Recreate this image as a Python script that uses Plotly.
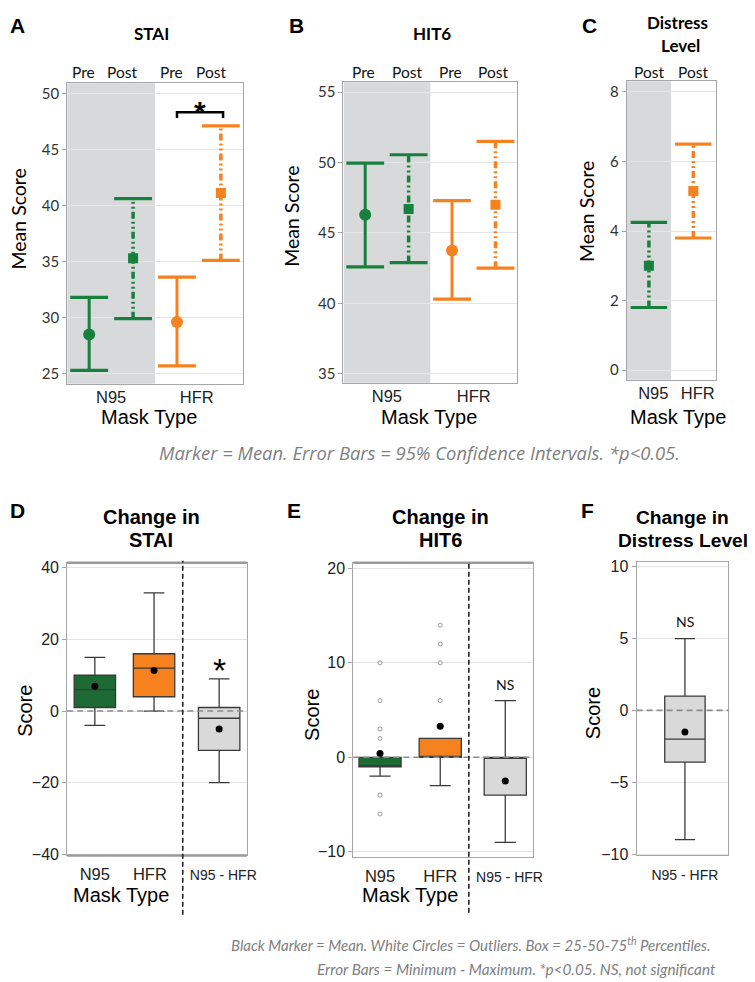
import plotly.graph_objects as go

W, H = 755, 982

# ---------------- Data: panels A-C (mean with 95% CI) ----------------
mask_types = ["N95", "HFR"]
time_points = ["Pre", "Post", "Pre", "Post"]      # N95 Pre, N95 Post, HFR Pre, HFR Post
point_mask = ["N95", "N95", "HFR", "HFR"]
stai_mean = [28.5, 35.3, 29.6, 41.1]
stai_lo = [25.3, 29.9, 25.7, 35.1]
stai_hi = [31.8, 40.6, 33.6, 47.1]
hit6_mean = [46.3, 46.7, 43.75, 47.0]
hit6_lo = [42.6, 42.9, 40.3, 42.5]
hit6_hi = [49.95, 50.55, 47.3, 51.5]
distress_time = ["Post", "Post"]
distress_mask = ["N95", "HFR"]
distress_mean = [3.0, 5.15]
distress_lo = [1.8, 3.8]
distress_hi = [4.25, 6.5]

# ---------------- Data: panels D-F (box statistics) ----------------
change_groups = ["N95", "HFR", "N95 - HFR"]
stai_chg_min = [-4, 0, -20]
stai_chg_q1 = [1, 4, -11]
stai_chg_med = [6, 12, -2]
stai_chg_q3 = [10, 16, 1]
stai_chg_max = [15, 33, 9]
stai_chg_mean = [6.9, 11.3, -5.0]

hit6_chg_min = [-2, -3, -9]
hit6_chg_q1 = [-1, 0, -4]
hit6_chg_med = [-1, 0, 0]
hit6_chg_q3 = [0, 2, 0]
hit6_chg_max = [0, 2, 6]
hit6_chg_mean = [0.4, 3.3, -2.5]
hit6_outliers_n95 = [10, 6, 3, 2, -4, -6]
hit6_outliers_hfr = [14, 12, 10, 6]

distress_chg_group = ["N95 - HFR"]
distress_chg_min = [-9]
distress_chg_q1 = [-3.6]
distress_chg_med = [-2]
distress_chg_q3 = [1]
distress_chg_max = [5]
distress_chg_mean = [-1.5]

# ---------------- Styling ----------------
GREEN = "#17803d"
ORANGE = "#f5821f"
DGREEN = "#1e6a34"
BOXGRAY = "#d9d9d9"
SHADE = "#d8d9da"
AX = "#a6a6a6"
GRID = "#e4e4e4"
SANS = "Liberation Sans, Arial, sans-serif"
CAL = "Lato, Open Sans, sans-serif"
OPEN = "Open Sans, sans-serif"
mask_color = {"N95": GREEN, "HFR": ORANGE}
box_fill = {"N95": DGREEN, "HFR": ORANGE, "N95 - HFR": BOXGRAY}


def px(x):
    return x / W


def py(y):
    return 1 - y / H


def dx(a, b):
    return [px(a), px(b)]


def dy(top, bottom):
    return [py(bottom), py(top)]


fig = go.Figure()


def ci_panel(n, xs, means, los, his, masks, times, cap):
    xa, ya = ("x" if n == 1 else f"x{n}"), ("y" if n == 1 else f"y{n}")
    for x, m, lo, hi, mk, t in zip(xs, means, los, his, masks, times):
        c = mask_color[mk]
        pre = t == "Pre"
        fig.add_trace(go.Scatter(
            x=[x, x], y=[lo, hi], mode="lines", xaxis=xa, yaxis=ya,
            line=dict(color=c, width=3 if pre else 3.5,
                      dash="solid" if pre else "7px,3px,2px,3px,2px,3px"),
            showlegend=False, hoverinfo="skip"))
        fig.add_trace(go.Scatter(
            x=[x, x], y=[lo, hi], mode="markers", xaxis=xa, yaxis=ya,
            marker=dict(symbol="line-ew", size=cap, line=dict(color=c, width=3.2)),
            showlegend=False, hoverinfo="skip"))
        fig.add_trace(go.Scatter(
            x=[x], y=[m], mode="markers", xaxis=xa, yaxis=ya,
            marker=dict(symbol="circle" if pre else "square",
                        size=12 if pre else 10, color=c),
            showlegend=False, hoverinfo="skip"))


pos4 = [i + 0.5 for i in range(len(stai_mean))]
pos2 = [i + 0.5 for i in range(len(distress_mean))]
ci_panel(1, pos4, stai_mean, stai_lo, stai_hi, point_mask, time_points, 27)
ci_panel(2, pos4, hit6_mean, hit6_lo, hit6_hi, point_mask, time_points, 27)
ci_panel(3, pos2, distress_mean, distress_lo, distress_hi, distress_mask, distress_time, 26)


def box_panel(n, xs, lows, q1s, meds, q3s, highs, means, groups, width):
    xa, ya = f"x{n}", f"y{n}"
    for x, lo, q1, md, q3, hi, g in zip(xs, lows, q1s, meds, q3s, highs, groups):
        fig.add_trace(go.Box(
            x=[x], q1=[q1], median=[md], q3=[q3], lowerfence=[lo], upperfence=[hi],
            xaxis=xa, yaxis=ya, fillcolor=box_fill[g],
            line=dict(color="#3a3a3a", width=1.3), width=width, whiskerwidth=0.5,
            boxpoints=False, showlegend=False, hoverinfo="skip"))
    fig.add_trace(go.Scatter(
        x=xs, y=means, mode="markers", xaxis=xa, yaxis=ya,
        marker=dict(symbol="circle", size=7, color="black"),
        showlegend=False, hoverinfo="skip"))


posD = [1, 2, 3.1]
posE = [1, 2, 3.08]
box_panel(4, posD, stai_chg_min, stai_chg_q1, stai_chg_med, stai_chg_q3, stai_chg_max,
          stai_chg_mean, change_groups, 0.7)
box_panel(5, posE, hit6_chg_min, hit6_chg_q1, hit6_chg_med, hit6_chg_q3, hit6_chg_max,
          hit6_chg_mean, change_groups, 0.7)
box_panel(6, [0], distress_chg_min, distress_chg_q1, distress_chg_med, distress_chg_q3,
          distress_chg_max, distress_chg_mean, distress_chg_group, 0.44)

fig.add_trace(go.Scatter(
    x=[posE[0]] * len(hit6_outliers_n95) + [posE[1]] * len(hit6_outliers_hfr),
    y=hit6_outliers_n95 + hit6_outliers_hfr, mode="markers", xaxis="x5", yaxis="y5",
    marker=dict(symbol="circle-open", size=4, color="#9a9a9a", line=dict(width=1)),
    showlegend=False, hoverinfo="skip"))

# ---------------- Axes ----------------
top_y = dict(showgrid=True, gridcolor=GRID, gridwidth=1, showline=True, mirror=True,
             linecolor=AX, linewidth=1, ticks="outside", ticklen=4, tickcolor=AX,
             tickfont=dict(family=CAL, size=15, color="#333"), zeroline=False)
top_x = dict(showgrid=False, showline=True, mirror=True, linecolor=AX, linewidth=1,
             ticks="", ticklabelstandoff=-2,
             tickfont=dict(family=SANS, size=16.5, color="#222"), zeroline=False)
bot_y = dict(showgrid=True, gridcolor=GRID, gridwidth=1, showline=True, mirror=True,
             linecolor=AX, linewidth=1, ticks="outside", ticklen=4, tickcolor=AX,
             tickfont=dict(family=SANS, size=16, color="#222"), zeroline=False)
bot_x = dict(showgrid=False, showline=True, mirror=True, linecolor=AX, linewidth=1,
             ticks="outside", ticklen=4, tickcolor="rgba(0,0,0,0)",
             tickfont=dict(family=SANS, size=16.5, color="#222"), zeroline=False)


def small(s):
    return f"<span style='font-size:14px'>{s}</span>"


fig.update_layout(
    width=W, height=H, margin=dict(l=0, r=0, t=0, b=0),
    paper_bgcolor="white", plot_bgcolor="white", showlegend=False,
    xaxis=dict(top_x, anchor="y", domain=dx(60, 238), range=[0, 4], tickvals=[1, 2.95],
               ticktext=mask_types),
    yaxis=dict(top_y, anchor="x", domain=dy(73, 377), range=[24.1, 50.9],
               tickvals=[25, 30, 35, 40, 45, 50]),
    xaxis2=dict(top_x, anchor="y2", domain=dx(340, 516), range=[0, 4], tickvals=[1, 3],
                ticktext=mask_types),
    yaxis2=dict(top_y, anchor="x2", domain=dy(72, 376), range=[34.37, 55.7],
                tickvals=[35, 40, 45, 50, 55]),
    xaxis3=dict(top_x, anchor="y3", domain=dx(627, 717), range=[0, 2], tickvals=[0.6, 1.6],
                ticktext=mask_types),
    yaxis3=dict(top_y, anchor="x3", domain=dy(71, 373), range=[-0.28, 8.31],
                tickvals=[0, 2, 4, 6, 8]),
    xaxis4=dict(bot_x, anchor="y4", domain=dx(60, 242), range=[0.533, 3.567],
                tickvals=[1, 1.93, 3.17], ticktext=["N95", "HFR", small("N95 - HFR")]),
    yaxis4=dict(bot_y, anchor="x4", domain=dy(558, 854), range=[-40.3, 41.4],
                tickvals=[-40, -20, 0, 20, 40]),
    xaxis5=dict(bot_x, anchor="y5", domain=dx(350, 532), range=[0.557, 3.54],
                tickvals=[1, 2, 3.15], ticktext=["N95", "HFR", small("N95 - HFR")]),
    yaxis5=dict(bot_y, anchor="x5", domain=dy(558, 856), range=[-10.6, 20.6],
                tickvals=[-10, 0, 10, 20]),
    xaxis6=dict(bot_x, anchor="y6", domain=dx(637, 730), range=[-0.527, 0.473], tickvals=[0],
                ticktext=[small("N95 - HFR")]),
    yaxis6=dict(bot_y, anchor="x6", domain=dy(557, 854), range=[-10.1, 10.35],
                tickvals=[-10, -5, 0, 5, 10]),
)

# ---------------- Shapes ----------------
shapes = [
    dict(type="rect", xref="x", yref="y domain", x0=0, x1=2, y0=0, y1=1, fillcolor=SHADE,
         line=dict(width=0), layer="below"),
    dict(type="rect", xref="x2", yref="y2 domain", x0=0, x1=2, y0=0, y1=1, fillcolor=SHADE,
         line=dict(width=0), layer="below"),
    dict(type="rect", xref="x3", yref="y3 domain", x0=0, x1=1, y0=0, y1=1, fillcolor=SHADE,
         line=dict(width=0), layer="below"),
    # significance bracket (HFR Pre vs Post)
    dict(type="path", xref="x", yref="y", path="M 2.5,47.8 L 2.5,48.3 L 3.55,48.3 L 3.55,47.8",
         line=dict(color="black", width=2.5)),
]
for n in (4, 5, 6):
    shapes.append(dict(type="line", xref=f"x{n} domain", yref=f"y{n}", x0=0, x1=1, y0=0, y1=0,
                       line=dict(color="#8c8c8c", width=1.6, dash="6px,4px"), layer="above"))
# thick top/bottom borders
shapes.append(dict(type="line", xref="x4 domain", yref="y4 domain", x0=0, x1=1, y0=1, y1=1,
                   line=dict(color="#9a9a9a", width=2.5)))
shapes.append(dict(type="line", xref="x4 domain", yref="y4 domain", x0=0, x1=1, y0=0, y1=0,
                   line=dict(color="#9a9a9a", width=2.5)))
shapes.append(dict(type="line", xref="x5 domain", yref="y5 domain", x0=0, x1=1, y0=1, y1=1,
                   line=dict(color="#9a9a9a", width=2.5)))
# vertical separators
shapes.append(dict(type="line", xref="x4", yref="paper", x0=2.485, x1=2.485, y0=py(914), y1=py(556),
                   line=dict(color="#222", width=1.6, dash="5px,3px")))
shapes.append(dict(type="line", xref="x5", yref="paper", x0=2.475, x1=2.475, y0=py(912), y1=py(556),
                   line=dict(color="#222", width=1.6, dash="5px,3px")))
fig.update_layout(shapes=shapes)

# ---------------- Annotations ----------------
ann = []


def text(x, y, s, size, family=SANS, color="black", bold=False, italic=False,
         angle=0, xanchor="center", yanchor="middle"):
    if bold:
        s = f"<b>{s}</b>"
    if italic:
        s = f"<i>{s}</i>"
    ann.append(dict(x=px(x), y=py(y), xref="paper", yref="paper", text=s, showarrow=False,
                    textangle=angle, font=dict(family=family, size=size, color=color),
                    xanchor=xanchor, yanchor=yanchor))


# panel letters
for lx, ly, L in [(10, 15, "A"), (292, 15, "B"), (589, 15, "C"),
                  (10, 505, "D"), (290, 505, "E"), (587, 505, "F")]:
    text(lx, ly, L, 21, bold=True)

# top titles
text(145, 23, "STAI", 17, family=CAL, bold=True)
text(430, 23, "HIT6", 17, family=CAL, bold=True)
text(678, 12, "Distress", 17, family=CAL, bold=True)
text(682, 35, "Level", 17, family=CAL, bold=True)

# Pre / Post headers
a_shift = [-6, -11, -5, -10]
for x, t, s in zip(pos4, time_points, a_shift):
    ann.append(dict(x=x, y=py(62), xref="x", yref="paper", text=t, showarrow=False, xshift=s,
                    yanchor="middle", font=dict(family=CAL, size=15.5, color="#111")))
    ann.append(dict(x=x, y=py(62), xref="x2", yref="paper", text=t, showarrow=False, xshift=-2,
                    yanchor="middle", font=dict(family=CAL, size=15.5, color="#111")))
for x, t in zip(pos2, distress_time):
    ann.append(dict(x=x, y=py(62), xref="x3", yref="paper", text=t, showarrow=False,
                    yanchor="middle", font=dict(family=CAL, size=15.5, color="#111")))

# y titles
text(11, 210, "Mean Score", 19.5, family=CAL, angle=-90)
text(287, 208, "Mean Score", 19.5, family=CAL, angle=-90)
text(587, 203, "Mean Score", 19.5, family=CAL, angle=-90)
text(17, 708, "Score", 20, angle=-90)
text(308, 712, "Score", 20, angle=-90)
text(593, 710, "Score", 20, angle=-90)

# x titles
text(143, 411, "Mask Type", 20)
text(427, 411, "Mask Type", 20)
text(679, 411, "Mask Type", 20)
text(115, 894, "Mask Type", 20)
text(407, 894, "Mask Type", 20)

# significance
ann.append(dict(x=3.02, y=48.75, xref="x", yref="y", text="<b>*</b>", showarrow=False,
                font=dict(family=SANS, size=30, color="black"), yanchor="middle", yshift=-4))
ann.append(dict(x=posD[2], y=13.2, xref="x4", yref="y4", text="*", showarrow=False,
                font=dict(family=SANS, size=34, color="black"), yanchor="middle", yshift=-6))
ann.append(dict(x=posE[2], y=7.7, xref="x5", yref="y5", text="NS", showarrow=False,
                font=dict(family=CAL, size=14, color="#111")))
ann.append(dict(x=0, y=6.2, xref="x6", yref="y6", text="NS", showarrow=False,
                font=dict(family=CAL, size=14, color="#111")))

# bottom titles
text(145, 512, "Change in", 20, bold=True)
text(145, 535, "STAI", 20, bold=True)
text(438, 512, "Change in", 20, bold=True)
text(438, 535, "HIT6", 20, bold=True)
text(684, 512, "Change in", 19.2, bold=True)
text(684, 535, "Distress Level", 19.2, bold=True)

# captions
text(417, 447, "Marker = Mean. Error Bars = 95% Confidence Intervals. *p<0.05.", 18.4,
     family=OPEN, color="#808080", italic=True)
text(714, 944, "Black Marker = Mean. White Circles = Outliers. Box = 25-50-75<sup>th</sup> Percentiles.",
     15, family=CAL, color="#808080", italic=True, xanchor="right")
text(720, 969, "Error Bars = Minimum - Maximum. *p<0.05. NS, not significant", 15.3,
     family=CAL, color="#808080", italic=True, xanchor="right")

fig.update_layout(annotations=ann)
fig.write_html("out.html")
